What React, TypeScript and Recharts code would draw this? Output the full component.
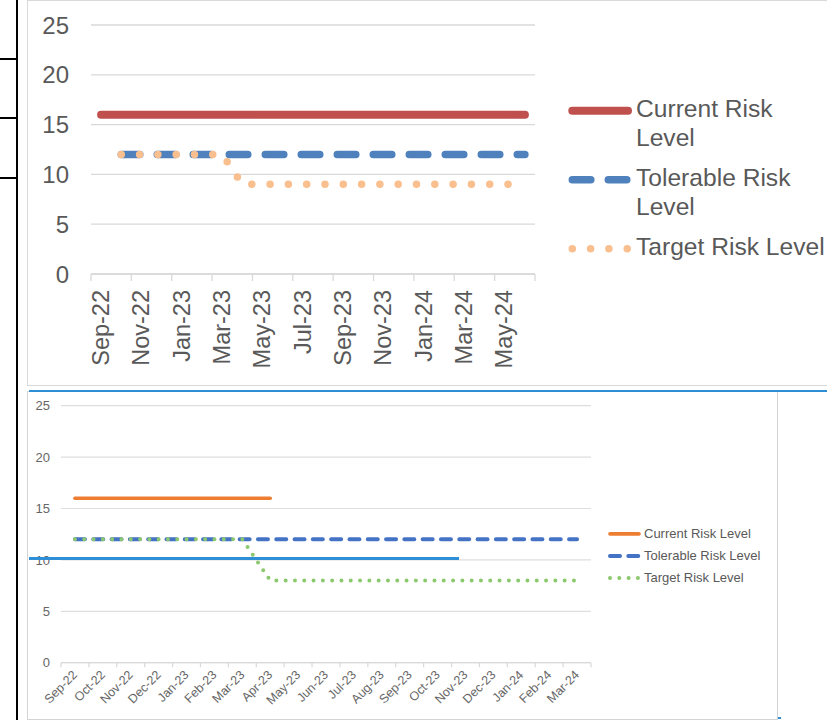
import React from 'react';
import { LineChart, Line, XAxis, YAxis, CartesianGrid, Legend } from 'recharts';

const FONT = '"Liberation Sans", Arial, Helvetica, sans-serif';
const TEXT = '#595959';
const GRID = '#d9d9d9';

// ---------- Upper chart: monthly, Sep-22 to Jun-24 ----------
const months1 = [
  'Sep-22', 'Oct-22', 'Nov-22', 'Dec-22', 'Jan-23', 'Feb-23', 'Mar-23', 'Apr-23',
  'May-23', 'Jun-23', 'Jul-23', 'Aug-23', 'Sep-23', 'Oct-23', 'Nov-23', 'Dec-23',
  'Jan-24', 'Feb-24', 'Mar-24', 'Apr-24', 'May-24', 'Jun-24',
];
const current1 = [16, 16, 16, 16, 16, 16, 16, 16, 16, 16, 16, 16, 16, 16, 16, 16, 16, 16, 16, 16, 16, 16];
const tolerable1 = [null, 12, 12, 12, 12, 12, 12, 12, 12, 12, 12, 12, 12, 12, 12, 12, 12, 12, 12, 12, 12, 12];
const target1 = [null, 12, 12, 12, 12, 12, 12, 9, 9, 9, 9, 9, 9, 9, 9, 9, 9, 9, 9, 9, 9, 9];

// ---------- Lower chart: monthly, Sep-22 to Mar-24 ----------
const months2 = [
  'Sep-22', 'Oct-22', 'Nov-22', 'Dec-22', 'Jan-23', 'Feb-23', 'Mar-23', 'Apr-23',
  'May-23', 'Jun-23', 'Jul-23', 'Aug-23', 'Sep-23', 'Oct-23', 'Nov-23', 'Dec-23',
  'Jan-24', 'Feb-24', 'Mar-24',
];
const current2 = [16, 16, 16, 16, 16, 16, 16, 16, null, null, null, null, null, null, null, null, null, null, null];
const tolerable2 = [12, 12, 12, 12, 12, 12, 12, 12, 12, 12, 12, 12, 12, 12, 12, 12, 12, 12, 12];
const target2 = [12, 12, 12, 12, 12, 12, 12, 8, 8, 8, 8, 8, 8, 8, 8, 8, 8, 8, 8];

const yTicks = [0, 5, 10, 15, 20, 25];

const seriesOrder = ['current', 'tolerable', 'target'] as const;
const seriesNames: Record<string, string> = {
  current: 'Current Risk Level',
  tolerable: 'Tolerable Risk Level',
  target: 'Target Risk Level',
};

type Style = { stroke: string; width: number; dash?: string };

const upperStyles: Record<string, Style> = {
  current: { stroke: '#C0504D', width: 8 },
  tolerable: { stroke: '#4F81BD', width: 7.5, dash: '18.5 17.5' },
  target: { stroke: '#F9BF8F', width: 7.5, dash: '0 18.3' },
};

const lowerStyles: Record<string, Style> = {
  current: { stroke: '#ED7D31', width: 3.6 },
  tolerable: { stroke: '#4472C4', width: 4, dash: '10 8.3' },
  target: { stroke: '#8CC96E', width: 4, dash: '0 9.3' },
};

// Each month occupies one unit on a numeric axis; points sit at the band centres.
const buildRows = (months: string[], cur: (number | null)[], tol: (number | null)[], tgt: (number | null)[]) =>
  months.map((m, i) => ({ x: i + 0.5, month: m, current: cur[i], tolerable: tol[i], target: tgt[i] }));

const data1 = buildRows(months1, current1, tolerable1, target1);
const data2 = buildRows(months2, current2, tolerable2, target2);

// Integer ticks draw the band-boundary marks, half ticks carry the month label.
const ticks1: number[] = [];
for (let i = 0; i <= months1.length; i += 2) {
  ticks1.push(i);
  if (i < months1.length) ticks1.push(i + 0.5);
}
const ticks2: number[] = [];
for (let i = 0; i <= months2.length; i += 1) {
  ticks2.push(i);
  if (i < months2.length) ticks2.push(i + 0.5);
}

function UpperTick(props: any) {
  const { x, y, payload } = props;
  const v = payload.value as number;
  if (Number.isInteger(v)) {
    return <line x1={x} x2={x} y1={y} y2={y + 7} stroke={GRID} strokeWidth={1.3} />;
  }
  const ty = y + 16;
  return (
    <text
      x={x}
      y={ty}
      transform={`rotate(-90 ${x} ${ty})`}
      textAnchor="end"
      dy="0.33em"
      fontSize={23.5}
      fill={TEXT}
      fontFamily={FONT}
    >
      {months1[Math.floor(v)]}
    </text>
  );
}

function LowerTick(props: any) {
  const { x, y, payload } = props;
  const v = payload.value as number;
  if (Number.isInteger(v)) {
    return <line x1={x} x2={x} y1={y} y2={y + 4.5} stroke={GRID} strokeWidth={1.2} />;
  }
  const tx = x + 3;
  const ty = y + 13;
  return (
    <text
      x={tx}
      y={ty}
      transform={`rotate(-45 ${tx} ${ty})`}
      textAnchor="end"
      fontSize={12.5}
      fill="#666666"
      fontFamily={FONT}
    >
      {months2[Math.floor(v)]}
    </text>
  );
}

function makeLegend(styles: Record<string, Style>, opts: {
  sampleW: number; rowH: number; lineY: number; x1: number; x2: number;
  textW: number; fontSize: number; gap: number; color: string;
}) {
  return function LegendBox(props: any) {
    const payload = (props.payload || []) as any[];
    const ordered = seriesOrder
      .map((k) => payload.find((e) => e.dataKey === k))
      .filter(Boolean) as any[];
    return (
      <div style={{ fontFamily: FONT }}>
        {ordered.map((entry) => {
          const st = styles[entry.dataKey as string];
          return (
            <div key={entry.dataKey} style={{ display: 'flex', alignItems: 'flex-start', marginBottom: opts.gap }}>
              <svg width={opts.sampleW} height={opts.rowH} style={{ display: 'block', flex: 'none' }}>
                <line
                  x1={opts.x1}
                  x2={opts.x2}
                  y1={opts.lineY}
                  y2={opts.lineY}
                  stroke={st.stroke}
                  strokeWidth={st.width}
                  strokeDasharray={st.dash}
                  strokeLinecap="round"
                />
              </svg>
              <div
                style={{
                  width: opts.textW,
                  fontSize: opts.fontSize,
                  lineHeight: `${opts.rowH}px`,
                  color: opts.color,
                }}
              >
                {entry.value}
              </div>
            </div>
          );
        })}
      </div>
    );
  };
}

const UpperLegend = makeLegend(upperStyles, {
  sampleW: 68, rowH: 29.4, lineY: 16.8, x1: 4.3, x2: 60,
  textW: 195, fontSize: 24.6, gap: 10.2, color: TEXT,
});

const LowerLegend = makeLegend(lowerStyles, {
  sampleW: 36, rowH: 21.7, lineY: 10.9, x1: 2, x2: 31,
  textW: 140, fontSize: 13, gap: 0, color: TEXT,
});

function seriesLines(styles: Record<string, Style>) {
  return seriesOrder.map((key) => {
    const st = styles[key];
    return (
      <Line
        key={key}
        type="linear"
        dataKey={key}
        name={seriesNames[key]}
        stroke={st.stroke}
        strokeWidth={st.width}
        strokeDasharray={st.dash}
        strokeLinecap="round"
        strokeLinejoin="round"
        dot={false}
        activeDot={false}
        isAnimationActive={false}
      />
    );
  });
}

function UpperChart() {
  return (
    <LineChart width={800} height={386} data={data1} margin={{ top: 25, right: 292, bottom: 0, left: 0 }}>
      <CartesianGrid vertical={false} stroke={GRID} strokeWidth={1.3} />
      <XAxis
        dataKey="x"
        type="number"
        domain={[0, months1.length]}
        ticks={ticks1}
        interval={0}
        height={112}
        axisLine={{ stroke: GRID, strokeWidth: 1.3 }}
        tickLine={false}
        tickSize={0}
        tickMargin={0}
        tick={(p: any) => <UpperTick {...p} />}
      />
      <YAxis
        domain={[0, 25]}
        ticks={yTicks}
        width={64}
        axisLine={false}
        tickLine={false}
        tickSize={0}
        tickMargin={22}
        tick={{ fontSize: 24, fill: TEXT, fontFamily: FONT }}
      />
      {seriesLines(upperStyles)}
      <Legend
        layout="horizontal"
        verticalAlign="middle"
        align="center"
        content={(p: any) => <UpperLegend {...p} />}
        wrapperStyle={{ left: 541, top: 93.6, width: 275 }}
      />
    </LineChart>
  );
}

function LowerChart() {
  return (
    <LineChart width={749} height={327} data={data2} margin={{ top: 13.7, right: 186, bottom: 0, left: 0 }}>
      <CartesianGrid vertical={false} stroke="#dedede" strokeWidth={1.2} />
      <XAxis
        dataKey="x"
        type="number"
        domain={[0, months2.length]}
        ticks={ticks2}
        interval={0}
        height={56.3}
        axisLine={{ stroke: GRID, strokeWidth: 1.2 }}
        tickLine={false}
        tickSize={0}
        tickMargin={0}
        tick={(p: any) => <LowerTick {...p} />}
      />
      <YAxis
        domain={[0, 25]}
        ticks={yTicks}
        width={33}
        axisLine={false}
        tickLine={false}
        tickSize={0}
        tickMargin={11}
        tick={{ fontSize: 13, fill: '#666666', fontFamily: FONT }}
      />
      {seriesLines(lowerStyles)}
      <Legend
        layout="horizontal"
        verticalAlign="middle"
        align="center"
        content={(p: any) => <LowerLegend {...p} />}
        wrapperStyle={{ left: 580, top: 131.4, width: 180 }}
      />
    </LineChart>
  );
}

export default function App() {
  const abs = (s: React.CSSProperties): React.CSSProperties => ({ position: 'absolute', ...s });
  return (
    <div
      style={{
        position: 'absolute',
        left: 0,
        top: 0,
        width: 827,
        height: 720,
        overflow: 'hidden',
        background: '#ffffff',
        fontFamily: FONT,
      }}
    >
      {/* table rules at the left margin */}
      <div style={abs({ left: 15.7, top: 0, width: 2, height: 720, background: '#000' })} />
      <div style={abs({ left: 0, top: 58.3, width: 17, height: 1.6, background: '#000' })} />
      <div style={abs({ left: 0, top: 117, width: 17, height: 1.6, background: '#000' })} />
      <div style={abs({ left: 0, top: 177, width: 17, height: 1.6, background: '#000' })} />

      {/* upper chart */}
      <div style={abs({ left: 27, top: 0, width: 820, height: 386, border: `1px solid ${GRID}`, boxSizing: 'border-box' })} />
      <div style={abs({ left: 27, top: 0, width: 800, height: 386 })}>
        <UpperChart />
      </div>

      {/* lower chart */}
      <div style={abs({ left: 27, top: 391, width: 751, height: 329, border: '1px solid #d4d4d4', boxSizing: 'border-box' })} />
      <div style={abs({ left: 28, top: 392, width: 749, height: 327 })}>
        <LowerChart />
      </div>

      {/* blue rules drawn over the page */}
      <div style={abs({ left: 28.5, top: 389.8, width: 800, height: 2.2, background: '#2F8FD6' })} />
      <div style={abs({ left: 29, top: 557.2, width: 430, height: 2.4, background: '#2F8FD6' })} />
      <div style={abs({ left: 778, top: 717, width: 3, height: 2, background: '#2F8FD6' })} />
    </div>
  );
}
